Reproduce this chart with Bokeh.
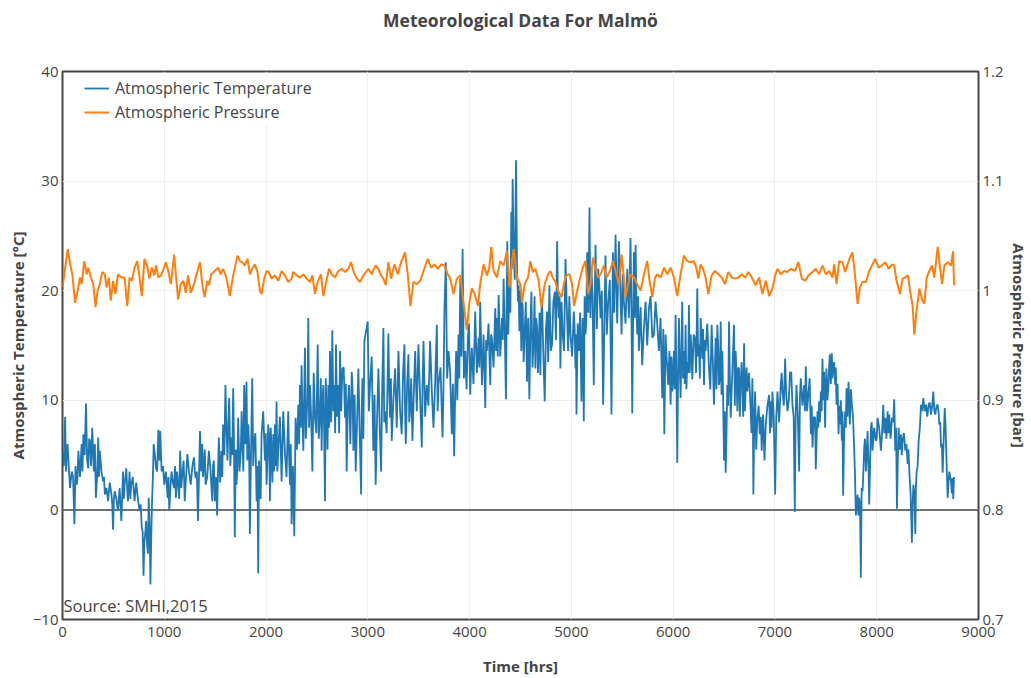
from bokeh.plotting import figure
from bokeh.models import (Range1d, LinearAxis, FixedTicker, Span, Label, Legend,
                          LegendItem, CustomJSTickFormatter)
from bokeh.embed import file_html
from bokeh.resources import INLINE

# ---------------- data ----------------
# temperature, main readings (peaks / troughs)
temp_hours_a = [0, 26, 42, 58, 91, 117, 140, 156, 188, 205, 231, 253, 270, 292, 308, 328, 351, 367, 399, 416,
                448, 481, 497, 513, 545, 578, 594, 610, 627, 643, 659, 675, 708, 740, 757, 779, 796, 812, 831, 847,
                864, 880, 896, 919, 942, 961, 974, 1000, 1033, 1049, 1072, 1097, 1114, 1136, 1156, 1179, 1201, 1227, 1260, 1292,
                1309, 1331, 1351, 1373, 1390, 1406, 1438, 1471, 1487]
temp_vals_a = [5.4, 8.5, 5.1, 4.5, 3.5, -1.3, 2.3, 5.4, 6.0, 6.9, 9.7, 3.8, 6.3, 7.5, 3.5, 1.1, 6.6, 5.4, 2.6, 1.4,
               0.8, 1.4, -1.8, 1.7, -0.1, -1.0, 3.5, 2.3, 3.8, 0.8, 3.5, 2.3, 0.8, 1.1, -0.1, -1.6, -6.0, -2.2, -3.1, 1.1,
               -6.8, 0.8, 6.0, 3.8, 7.3, 7.2, 3.5, 2.3, 1.1, -0.1, 3.5, 2.0, 1.1, 2.3, 5.4, 3.5, 0.8, 5.1, 2.3, 4.8,
               2.9, -1.0, 7.2, 6.0, 4.2, 2.3, 5.4, 0.8, 4.5]

temp_hours_b = [1496, 1519, 1536, 1562, 1578, 1601, 1621, 1638, 1660, 1677, 1693, 1710, 1726, 1752, 1769, 1785, 1808, 1825, 1841, 1864,
                1884, 1907, 1923, 1939, 1956, 1989, 2005, 2021, 2038, 2054, 2071, 2087, 2103, 2120, 2153, 2185, 2218, 2235, 2251, 2277,
                2290, 2317, 2333, 2349, 2366, 2382, 2399, 2415, 2432, 2455, 2481, 2507, 2530, 2546, 2563, 2579, 2596, 2612, 2628, 2651,
                2671, 2687, 2710, 2727, 2750, 2776, 2792, 2815, 2842, 2858, 2881, 2907, 2934, 2947, 2966]
temp_vals_b = [0.8, -0.5, 6.6, 5.4, 7.8, 11.4, 4.5, 10.2, 6.6, 11.1, -2.5, 2.3, 8.4, 5.4, 6.0, 11.4, 11.7, 7.8, -2.2, 12.0,
               6.3, 0.8, -5.8, 2.3, 6.9, 4.5, 2.3, 7.8, 0.8, 5.4, 6.9, 7.8, 9.9, 5.4, 2.6, 5.4, 9.0, 2.3, -1.3, -2.4,
               8.4, 9.6, 11.4, 13.2, 5.4, 14.8, 8.4, 17.5, 11.4, 3.5, 8.4, 15.1, 9.0, 5.4, 11.4, 0.8, 8.4, 11.4, 14.5, 16.4,
               11.4, 15.1, 11.4, 14.5, 12.9, 8.4, 3.5, 11.4, 12.6, 5.4, 3.5, 12.9, 1.4, 12.0, 15.4]

temp_hours_c = [2999, 3022, 3054, 3077, 3104, 3130, 3153, 3169, 3202, 3219, 3235, 3268, 3301, 3333, 3360, 3373, 3399, 3415, 3438, 3465,
                3497, 3530, 3547, 3579, 3612, 3645, 3678, 3694, 3734, 3753, 3766, 3793, 3825, 3848, 3868, 3891, 3908, 3931, 3957, 3983,
                4006, 4022, 4055, 4088, 4104, 4121, 4154, 4170, 4203, 4219, 4252, 4268, 4285, 4318, 4334, 4357, 4370, 4390, 4410, 4423]
temp_vals_c = [17.2, 11.4, 5.4, 2.3, 12.9, 3.5, 16.6, 9.0, 16.1, 8.4, 6.3, 12.9, 14.5, 6.9, 15.1, 6.0, 14.2, 9.0, 6.3, 14.5,
               15.1, 5.7, 15.4, 11.4, 15.4, 7.5, 16.9, 11.4, 6.6, 18.4, 22.6, 14.5, 6.9, 4.9, 14.5, 16.0, 21.1, 23.8, 14.5, 15.7,
               10.5, 14.8, 18.1, 15.7, 19.0, 11.4, 9.3, 14.5, 11.4, 15.7, 18.4, 17.5, 19.6, 17.5, 21.1, 10.1, 24.5, 20.5, 27.2, 30.2]

temp_hours_d = [4433, 4456, 4476, 4489, 4508, 4522, 4541, 4564, 4587, 4607, 4630, 4646, 4663, 4679, 4695, 4712, 4738, 4761, 4784, 4810,
                4837, 4860, 4876, 4892, 4915, 4942, 4968, 4991, 5024, 5040, 5050, 5073, 5099, 5122, 5138, 5155, 5178, 5197, 5220, 5237,
                5263, 5286, 5312, 5335, 5362, 5394, 5408, 5434, 5467, 5493, 5516, 5549, 5581, 5598, 5614, 5631, 5647, 5663, 5696, 5729,
                5762, 5795, 5827, 5860, 5893, 5913]
temp_vals_d = [23.5, 31.9, 19.0, 16.3, 14.5, 18.4, 16.0, 11.7, 10.1, 19.9, 15.7, 12.9, 16.6, 14.5, 12.3, 19.0, 9.9, 18.1, 20.5, 15.1,
               19.9, 24.5, 17.5, 12.9, 16.0, 22.9, 14.5, 16.0, 18.1, 12.9, 8.7, 14.5, 9.9, 8.1, 16.0, 23.5, 27.6, 22.0, 11.4, 24.2,
               22.0, 17.5, 9.6, 23.2, 19.0, 8.7, 23.5, 25.1, 24.5, 16.0, 19.0, 22.0, 24.8, 8.8, 23.5, 24.2, 16.0, 14.5, 13.2, 19.0,
               18.4, 15.7, 19.0, 14.5, 10.2, 6.9]

temp_hours_e = [5925, 5952, 5975, 5991, 6007, 6024, 6040, 6057, 6073, 6089, 6106, 6122, 6139, 6155, 6172, 6188, 6214, 6237, 6254, 6270,
                6286, 6303, 6319, 6352, 6378, 6401, 6418, 6434, 6450, 6467, 6483, 6500, 6516, 6532, 6549, 6565, 6598, 6614, 6631, 6647,
                6664, 6680, 6697, 6713, 6729, 6762, 6778, 6788, 6805, 6828, 6851, 6870, 6884, 6910, 6943, 6959, 6975, 7002, 7025, 7057,
                7074, 7100, 7123, 7149, 7172, 7195, 7212, 7238, 7254, 7287, 7303, 7330, 7353, 7369, 7395]
temp_vals_e = [16.0, 11.4, 9.6, 10.8, 14.5, 17.8, 4.3, 17.5, 10.2, 19.0, 14.5, 16.9, 13.5, 18.7, 16.0, 11.9, 15.7, 20.2, 15.1, 17.5,
               13.8, 11.4, 14.5, 12.9, 16.9, 9.6, 15.7, 16.9, 11.4, 17.2, 14.5, 4.5, 3.4, 11.4, 17.2, 8.4, 16.9, 14.5, 9.0, 12.9,
               11.4, 11.4, 15.2, 11.4, 10.8, 9.0, 12.0, 1.4, 10.8, 8.4, 6.9, 5.4, 8.7, 7.8, 10.5, 9.9, 10.8, 1.4, 10.8, 11.4,
               10.8, 13.8, 9.0, 12.6, 9.6, -0.2, 11.4, 3.5, 12.0, 11.4, 13.1, 10.8, 6.9, 5.7, 8.4]

temp_hours_f = [7401, 7418, 7434, 7451, 7467, 7483, 7493, 7506, 7526, 7539, 7559, 7572, 7592, 7605, 7625, 7638, 7657, 7670, 7690, 7703,
                7723, 7736, 7756, 7779, 7795, 7812, 7828, 7844, 7861, 7877, 7894, 7910, 7926, 7943, 7959, 7992, 8008, 8041, 8064, 8084,
                8107, 8123, 8150, 8172, 8182, 8199, 8215, 8238, 8254, 8281, 8304, 8320, 8346, 8360, 8379, 8392, 8412, 8435, 8458, 8484,
                8510, 8533, 8556, 8576, 8599, 8615, 8632, 8648, 8668, 8681, 8697, 8714, 8730, 8745, 8752, 8759]
temp_vals_f = [3.7, 9.0, 9.9, 10.8, 13.8, 12.6, 7.5, 12.9, 11.4, 14.2, 14.3, 12.9, 11.4, 9.6, 6.9, 7.8, 6.3, 1.3, 9.0, 11.1,
               11.7, 7.8, 9.6, 5.4, -0.5, 1.4, 1.1, -6.2, 1.7, 5.7, 3.5, 7.2, 0.5, 7.5, 5.4, 6.3, 8.4, 5.4, 9.6, 8.4,
               9.0, 8.7, 8.4, 10.1, 5.4, 0.1, 7.5, 6.9, 6.3, 5.4, 4.2, 3.5, -3.0, 2.3, -2.2, 3.5, 6.3, 9.6, 10.2, 9.6,
               9.6, 8.7, 10.8, 8.7, 9.6, 7.8, 5.7, 3.4, 9.3, 6.0, 1.1, 3.5, 2.6, 2.9, 1.0, 3.0]

# temperature, extra readings inside the daily band (between the readings above)
band_hours_a = [13, 34, 50, 74, 104, 128, 148, 172, 196, 218, 242, 262, 281, 300, 318, 340, 359, 383, 408, 432,
                464, 489, 505, 529, 561, 586, 602, 618, 635, 651, 667, 690, 724, 748, 768, 788, 804, 822, 839, 855,
                872, 888, 908, 930, 952, 968, 987, 1016, 1041, 1060, 1085, 1105, 1125, 1146, 1167, 1190, 1214, 1243, 1276, 1300,
                1320, 1341, 1362, 1381, 1398, 1422, 1455, 1479]
band_vals_a = [4.0, 3.5, 6.0, 2.0, 3.0, 4.0, 3.0, 3.0, 3.5, 5.0, 4.5, 6.5, 4.0, 5.5, 6.0, 3.0, 3.0, 3.5, 3.0, 2.0,
               2.5, 0.5, 1.0, 1.0, 2.0, 1.0, 1.0, 3.0, 2.0, 2.0, 1.0, 3.0, 2.5, 0.5, 0.5, -2.0, -3.0, -1.0, -4.0, -1.0,
               -2.5, 3.0, 5.0, 3.5, 4.5, 5.0, 4.0, 3.5, 3.0, 2.0, 2.5, 4.0, 3.5, 1.0, 2.0, 4.5, 3.0, 3.5, 4.0, 3.5,
               3.5, 3.0, 3.5, 3.0, 5.5, 3.0, 3.5, 4.0]

band_hours_b = [1508, 1528, 1549, 1570, 1590, 1611, 1630, 1649, 1668, 1685, 1702, 1718, 1739, 1760, 1777, 1796, 1816, 1833, 1852, 1874,
                1895, 1915, 1931, 1947, 1972, 1997, 2013, 2030, 2046, 2062, 2079, 2095, 2111, 2136, 2169, 2201, 2226, 2243, 2264, 2284,
                2303, 2325, 2341, 2357, 2374, 2390, 2407, 2423, 2443, 2468, 2494, 2518, 2538, 2554, 2571, 2587, 2604, 2620, 2640, 2661,
                2679, 2698, 2718, 2738, 2763, 2784, 2803, 2828, 2850, 2870, 2894, 2920, 2940, 2956]
band_vals_b = [3.0, 3.5, 2.5, 3.0, 5.0, 7.5, 8.0, 4.0, 5.0, 6.0, 5.5, 4.0, 3.5, 9.0, 3.5, 6.0, 4.5, 6.0, 5.0, 4.0,
               7.0, 4.0, 4.5, 1.0, 9.0, 7.0, 4.5, 6.5, 7.5, 2.5, 3.5, 4.0, 3.5, 8.5, 9.0, 3.0, 5.0, 6.0, 4.0, 3.0,
               5.5, 6.0, 7.5, 9.0, 10.0, 6.5, 10.5, 7.5, 8.5, 12.5, 7.0, 6.5, 12.0, 10.0, 7.0, 12.0, 5.5, 7.5, 8.0, 9.0,
               7.0, 8.5, 7.0, 9.0, 13.0, 11.5, 9.5, 6.0, 11.0, 10.5, 8.0, 7.0, 9.0, 6.5]

band_hours_c = [3010, 3038, 3066, 3090, 3117, 3141, 3161, 3185, 3210, 3227, 3251, 3284, 3317, 3346, 3366, 3386, 3407, 3426, 3451, 3481,
                3513, 3538, 3563, 3595, 3628, 3661, 3686, 3714, 3743, 3779, 3809, 3836, 3857, 3879, 3899, 3920, 3944, 3970, 3994, 4014,
                4038, 4071, 4096, 4112, 4137, 4162, 4186, 4211, 4235, 4260, 4277, 4301, 4326, 4345, 4363, 4380, 4400, 4416]
band_vals_c = [9.0, 14.0, 10.5, 8.0, 7.5, 11.0, 8.0, 7.0, 11.0, 12.0, 10.0, 7.5, 9.0, 12.5, 9.0, 11.5, 8.0, 12.0, 10.5, 9.0,
               10.5, 11.5, 8.5, 9.5, 11.0, 11.5, 9.0, 13.0, 11.0, 12.0, 12.5, 11.5, 10.0, 10.0, 12.0, 14.0, 12.0, 11.0, 17.0, 13.0,
               11.5, 12.5, 13.0, 15.5, 16.0, 15.5, 17.0, 16.0, 13.0, 14.5, 14.0, 14.0, 15.5, 16.5, 17.5, 16.0, 18.0, 22.0]

band_hours_d = [4444, 4466, 4482, 4498, 4515, 4531, 4552, 4575, 4597, 4618, 4638, 4654, 4671, 4687, 4703, 4725, 4750, 4772, 4797, 4823,
                4848, 4868, 4884, 4903, 4928, 4955, 4980, 5007, 5032, 5045, 5062, 5086, 5110, 5130, 5146, 5166, 5187, 5208, 5228, 5250,
                5274, 5299, 5323, 5348, 5378, 5401, 5421, 5450, 5480, 5504, 5532, 5565, 5590, 5606, 5622, 5639, 5655, 5680, 5712, 5745,
                5778, 5811, 5843, 5876, 5903]
band_vals_d = [21.0, 22.0, 20.5, 20.0, 19.5, 13.5, 19.0, 17.5, 16.5, 13.0, 19.5, 17.5, 12.5, 18.0, 17.5, 14.0, 16.5, 13.5, 14.5, 19.0,
               15.5, 19.0, 19.5, 19.0, 14.5, 18.5, 19.5, 14.0, 16.5, 16.0, 17.0, 18.0, 17.5, 19.5, 17.0, 18.0, 17.5, 19.5, 18.5, 16.5,
               20.5, 20.0, 16.5, 16.0, 21.0, 16.5, 18.0, 17.0, 20.5, 21.5, 17.0, 17.5, 18.0, 17.0, 17.5, 18.5, 19.5, 18.5, 16.5, 15.0,
               19.5, 16.0, 17.0, 17.5, 16.5]

band_hours_e = [5938, 5963, 5983, 5999, 6015, 6032, 6048, 6065, 6081, 6097, 6114, 6130, 6147, 6163, 6180, 6201, 6225, 6245, 6262, 6278,
                6294, 6311, 6335, 6365, 6390, 6410, 6426, 6442, 6459, 6475, 6491, 6508, 6524, 6540, 6557, 6581, 6606, 6622, 6639, 6655,
                6672, 6688, 6705, 6721, 6745, 6770, 6783, 6796, 6816, 6840, 6861, 6877, 6897, 6926, 6951, 6967, 6988, 7013, 7041, 7066,
                7087, 7111, 7136, 7160, 7184, 7204, 7225, 7246, 7270, 7295, 7316, 7341, 7361, 7382]
band_vals_e = [13.5, 14.5, 14.0, 12.0, 11.0, 12.0, 12.0, 13.0, 14.5, 12.0, 11.5, 11.0, 12.5, 12.5, 14.5, 16.0, 12.5, 14.0, 12.0, 16.0,
               16.5, 15.5, 17.0, 11.0, 13.5, 13.0, 11.0, 15.0, 12.0, 10.5, 10.0, 9.0, 7.0, 9.5, 12.0, 12.5, 9.5, 12.5, 13.0, 8.5,
               13.5, 8.5, 9.0, 13.0, 12.5, 7.0, 9.0, 7.5, 5.5, 9.5, 8.5, 7.5, 4.5, 9.5, 7.0, 7.5, 8.5, 8.5, 8.0, 12.5,
               9.5, 10.5, 10.0, 12.5, 8.5, 9.0, 8.5, 10.5, 9.5, 9.0, 9.0, 12.0, 9.5, 8.5]

band_hours_f = [7410, 7426, 7442, 7459, 7475, 7488, 7499, 7516, 7532, 7549, 7565, 7582, 7598, 7615, 7631, 7647, 7663, 7680, 7696, 7713,
                7729, 7746, 7767, 7787, 7803, 7820, 7836, 7852, 7869, 7885, 7902, 7918, 7935, 7951, 7975, 8000, 8024, 8052, 8074, 8095,
                8115, 8136, 8161, 8190, 8207, 8226, 8246, 8267, 8292, 8312, 8333, 8353, 8370, 8385, 8402, 8424, 8446, 8471, 8497, 8521,
                8545, 8566, 8588, 8607, 8624, 8640, 8658, 8675, 8689, 8705, 8722, 8738]
band_vals_f = [6.5, 7.5, 8.0, 9.0, 10.0, 10.0, 11.0, 10.0, 13.0, 11.5, 12.0, 13.5, 13.0, 11.5, 9.5, 10.0, 9.0, 7.0, 7.5, 8.5,
               10.0, 11.0, 8.5, 3.0, 0.5, -0.5, 0.5, 2.0, 3.5, 6.5, 5.0, 4.5, 4.0, 8.0, 7.5, 6.5, 7.5, 7.0, 7.0, 6.5,
               7.0, 6.5, 8.0, 7.5, 4.5, 5.5, 5.0, 7.0, 6.0, 5.5, 1.5, 0.5, 1.5, 2.0, 4.0, 7.5, 9.0, 9.0, 8.5, 9.8,
               9.5, 9.0, 9.5, 9.0, 8.0, 6.0, 6.5, 8.0, 3.5, 2.5, 3.0, 1.5]

# pressure
press_hours_a = [0, 26, 52, 75, 97, 123, 149, 172, 188, 214, 237, 253, 279, 302, 325, 344, 367, 390, 416, 432,
                 455, 474, 497, 520, 545, 578, 610, 636, 659, 682, 708, 734, 757, 779, 805, 831, 854, 877, 903, 919,
                 942, 968, 994, 1016, 1039, 1065, 1097, 1114, 1136, 1162, 1188, 1211, 1234, 1260, 1292, 1318, 1351, 1373, 1396, 1422,
                 1438, 1461, 1487]
press_vals_a = [1.003, 1.021, 1.038, 1.024, 1.015, 0.989, 1.000, 1.012, 1.006, 1.027, 1.015, 1.021, 1.012, 1.006, 0.985, 1.000, 1.006, 1.017, 1.015, 1.003,
                1.012, 0.991, 1.009, 0.997, 1.015, 1.012, 1.012, 0.986, 1.012, 1.009, 1.021, 1.027, 1.012, 0.995, 1.029, 1.023, 1.011, 1.021, 1.014, 1.023,
                1.012, 1.014, 1.020, 1.026, 1.018, 1.006, 1.033, 1.015, 0.992, 1.006, 1.009, 0.998, 1.014, 0.998, 1.006, 1.015, 1.026, 1.006, 0.994, 1.009,
                1.005, 1.015, 1.017]

press_hours_b = [1496, 1529, 1555, 1578, 1611, 1644, 1677, 1700, 1720, 1743, 1765, 1792, 1818, 1841, 1864, 1890, 1916, 1939, 1956, 1982,
                 2005, 2028, 2054, 2087, 2120, 2153, 2185, 2218, 2251, 2267, 2300, 2333, 2366, 2399, 2432, 2455, 2481, 2507, 2540, 2563,
                 2586, 2619, 2645, 2678, 2710, 2743, 2776, 2809, 2835, 2858, 2891, 2924, 2956]
press_vals_b = [1.018, 1.021, 1.015, 1.020, 1.012, 0.995, 1.014, 1.024, 1.032, 1.027, 1.026, 1.023, 1.029, 1.015, 1.020, 1.024, 1.017, 1.000, 0.997, 1.011,
                1.018, 1.017, 1.011, 1.014, 1.009, 1.018, 1.014, 1.008, 1.011, 1.017, 1.014, 1.012, 1.015, 1.011, 1.008, 1.014, 0.997, 1.008, 1.015, 0.995,
                1.006, 1.020, 1.015, 1.012, 1.018, 1.020, 1.017, 1.020, 1.026, 1.018, 1.011, 1.008, 1.014]

press_hours_c = [3005, 3038, 3077, 3104, 3130, 3153, 3176, 3202, 3228, 3261, 3294, 3327, 3366, 3392, 3419, 3448, 3481, 3514, 3547, 3589,
                 3622, 3655, 3688, 3720, 3753, 3786, 3809, 3842, 3875, 3908, 3940, 3973, 3996, 4022, 4049, 4082, 4104, 4137, 4170, 4193,
                 4213, 4236, 4268, 4301, 4334, 4367, 4393, 4416]
press_vals_c = [1.020, 1.015, 1.023, 1.020, 1.014, 1.011, 1.005, 1.026, 1.011, 1.024, 1.015, 1.026, 1.035, 1.015, 0.986, 1.008, 1.006, 1.009, 1.018, 1.029,
                1.021, 1.024, 1.020, 1.024, 1.023, 1.015, 1.011, 0.997, 1.011, 1.014, 0.989, 0.964, 0.988, 1.002, 0.997, 0.986, 1.006, 1.024, 1.014, 1.021,
                1.040, 1.018, 1.012, 1.027, 1.023, 1.036, 1.003, 1.027]

press_hours_d = [4433, 4466, 4499, 4515, 4541, 4574, 4597, 4620, 4646, 4679, 4705, 4738, 4771, 4794, 4817, 4843, 4869, 4902, 4925, 4951,
                 4981, 5007, 5027, 5050, 5079, 5112, 5138, 5165, 5188, 5211, 5237, 5263, 5286, 5319, 5345, 5378, 5408, 5434, 5467, 5493,
                 5516, 5532, 5558, 5581, 5614, 5647, 5680, 5713, 5745, 5768, 5795, 5821, 5844, 5877, 5910]
press_vals_d = [1.038, 1.012, 1.006, 0.989, 1.006, 1.012, 1.027, 1.017, 1.020, 1.009, 0.985, 1.006, 1.015, 1.018, 1.012, 1.008, 1.000, 0.994, 1.006, 1.014,
                1.015, 1.006, 0.986, 0.997, 1.009, 1.021, 1.027, 0.997, 1.006, 1.030, 1.021, 1.012, 1.015, 1.023, 1.012, 1.018, 1.027, 1.018, 1.005, 1.033,
                1.012, 0.994, 1.006, 1.015, 1.012, 1.006, 1.000, 1.015, 1.027, 1.009, 0.994, 1.012, 1.015, 1.012, 1.021]

press_hours_e = [5942, 5975, 6007, 6040, 6073, 6106, 6139, 6172, 6204, 6227, 6247, 6270, 6293, 6319, 6345, 6378, 6411, 6444, 6477, 6509,
                 6542, 6575, 6608, 6641, 6674, 6706, 6739, 6772, 6811, 6844, 6877, 6910, 6943, 6975, 7002, 7025, 7057, 7090, 7123, 7156,
                 7198, 7231, 7264, 7297, 7330, 7369]
press_vals_e = [1.015, 1.021, 1.012, 0.995, 1.015, 1.032, 1.027, 1.026, 1.027, 1.021, 1.011, 1.024, 1.020, 1.012, 0.997, 1.014, 1.018, 1.015, 1.012, 1.006,
                1.017, 1.012, 1.011, 1.012, 1.015, 1.012, 1.017, 1.012, 1.005, 1.012, 0.997, 1.009, 0.995, 1.002, 1.014, 1.020, 1.015, 1.018, 1.017, 1.020,
                1.018, 1.026, 1.011, 1.009, 1.014, 1.017]

press_hours_f = [7401, 7434, 7467, 7500, 7533, 7565, 7582, 7605, 7631, 7664, 7690, 7713, 7736, 7762, 7789, 7812, 7835, 7861, 7894, 7926,
                 7953, 7985, 8018, 8051, 8084, 8117, 8150, 8172, 8195, 8228, 8254, 8281, 8307, 8327, 8353, 8369, 8392, 8419, 8445, 8468,
                 8491, 8517, 8543, 8566, 8599, 8622, 8642, 8665, 8697, 8730, 8750, 8760]
press_vals_f = [1.020, 1.015, 1.023, 1.015, 1.018, 1.012, 1.024, 1.006, 1.027, 1.026, 1.017, 1.024, 1.030, 1.035, 1.012, 0.988, 1.003, 1.008, 1.008, 1.018,
                1.023, 1.029, 1.021, 1.023, 1.026, 1.020, 1.024, 1.023, 1.009, 0.997, 1.011, 1.012, 1.014, 1.000, 0.986, 0.960, 0.982, 1.002, 0.992, 0.988,
                1.012, 1.018, 1.023, 1.012, 1.040, 1.021, 1.006, 1.023, 1.026, 1.023, 1.036, 1.005]

x_ticks = [0, 1000, 2000, 3000, 4000, 5000, 6000, 7000, 8000, 9000]
temp_ticks = [-10, 0, 10, 20, 30, 40]
press_ticks = [0.7, 0.8, 0.9, 1.0, 1.1, 1.2]

temp_pts = sorted(
    list(zip(temp_hours_a, temp_vals_a)) + list(zip(temp_hours_b, temp_vals_b)) +
    list(zip(temp_hours_c, temp_vals_c)) + list(zip(temp_hours_d, temp_vals_d)) +
    list(zip(temp_hours_e, temp_vals_e)) + list(zip(temp_hours_f, temp_vals_f)) +
    list(zip(band_hours_a, band_vals_a)) + list(zip(band_hours_b, band_vals_b)) +
    list(zip(band_hours_c, band_vals_c)) + list(zip(band_hours_d, band_vals_d)) +
    list(zip(band_hours_e, band_vals_e)) + list(zip(band_hours_f, band_vals_f)))
temp_hours = [h for h, _ in temp_pts]
temp_vals = [v for _, v in temp_pts]

press_hours = press_hours_a + press_hours_b + press_hours_c + press_hours_d + press_hours_e + press_hours_f
press_vals = press_vals_a + press_vals_b + press_vals_c + press_vals_d + press_vals_e + press_vals_f

# ---------------- figure ----------------
FONT = "Open Sans"
TXT = "#444444"

p = figure(width=1031, height=678, output_backend="svg", toolbar_location=None,
           x_range=Range1d(0, 9000), y_range=Range1d(-10, 40),
           min_border_left=62, min_border_right=53, min_border_top=71, min_border_bottom=59,
           background_fill_color="white", border_fill_color="white")

bottom_axis = p.below[0]
left_axis = p.left[0]

p.extra_y_ranges = {"press": Range1d(0.7, 1.2)}
right_axis = LinearAxis(y_range_name="press")
p.add_layout(right_axis, "right")

bottom_axis.ticker = FixedTicker(ticks=x_ticks)
left_axis.ticker = FixedTicker(ticks=temp_ticks)
right_axis.ticker = FixedTicker(ticks=press_ticks)

left_axis.formatter = CustomJSTickFormatter(code="return tick < 0 ? '\u2212' + Math.abs(tick) : '' + tick;")
right_axis.formatter = CustomJSTickFormatter(code="return '' + Math.round(tick * 10) / 10;")

bottom_axis.axis_label = "Time [hrs]"
left_axis.axis_label = "Atmospheric Temperature [°C]"
right_axis.axis_label = "Atmospheric Pressure [bar]"

for ax in (bottom_axis, left_axis, right_axis):
    ax.axis_line_color = None
    ax.major_tick_line_color = None
    ax.minor_tick_line_color = None
    ax.major_tick_out = 0
    ax.major_tick_in = 0
    ax.major_label_text_font = FONT
    ax.major_label_text_font_size = "15px"
    ax.major_label_text_color = TXT
    ax.axis_label_text_font = FONT
    ax.axis_label_text_font_size = "15px"
    ax.axis_label_text_font_style = "bold"
    ax.axis_label_text_color = TXT
bottom_axis.major_label_standoff = 7
bottom_axis.axis_label_standoff = 16
left_axis.major_label_standoff = 4
left_axis.axis_label_standoff = 2
right_axis.major_label_standoff = 4
right_axis.axis_label_standoff = 2

# title: drawn as the label of a tick-less axis above the frame (centred on the frame)
title_axis = LinearAxis(ticker=FixedTicker(ticks=[]))
title_axis.axis_label = "Meteorological Data For Malmö"
title_axis.axis_label_text_font = FONT
title_axis.axis_label_text_font_size = "17.5px"
title_axis.axis_label_text_font_style = "bold"
title_axis.axis_label_text_color = TXT
title_axis.axis_label_standoff = 40
title_axis.axis_line_color = None
title_axis.major_tick_line_color = None
title_axis.minor_tick_line_color = None
title_axis.major_tick_out = 0
title_axis.major_tick_in = 0
title_axis.major_label_standoff = 0
title_axis.major_label_text_alpha = 0
p.add_layout(title_axis, "above")

p.xgrid.grid_line_color = "#eeeeee"
p.ygrid.grid_line_color = "#eeeeee"
p.xgrid.ticker = FixedTicker(ticks=x_ticks)

p.outline_line_color = TXT
p.outline_line_width = 2

p.add_layout(Span(location=0, dimension="width", line_color=TXT, line_width=1.5, level="underlay"))

r_temp = p.line(temp_hours, temp_vals, line_color="#1f77b4", line_width=1.8)
r_press = p.line(press_hours, press_vals, line_color="#ff7f0e", line_width=2, y_range_name="press")

legend = Legend(items=[LegendItem(label="Atmospheric Temperature", renderers=[r_temp]),
                       LegendItem(label="Atmospheric Pressure", renderers=[r_press])],
                location=(22, 496), orientation="vertical",
                label_text_font=FONT, label_text_font_size="16px", label_text_color=TXT,
                glyph_width=25, glyph_height=20, label_height=20, label_standoff=6,
                spacing=2, padding=4, margin=0,
                border_line_color=None, background_fill_color="white", background_fill_alpha=1.0)
p.add_layout(legend)

p.add_layout(Label(x=0, y=-10, text="Source: SMHI,2015", text_font=FONT, text_font_size="16.5px",
                   text_color=TXT, text_baseline="bottom", x_offset=1, y_offset=3))

open("out.html", "w").write(file_html(p, INLINE))
